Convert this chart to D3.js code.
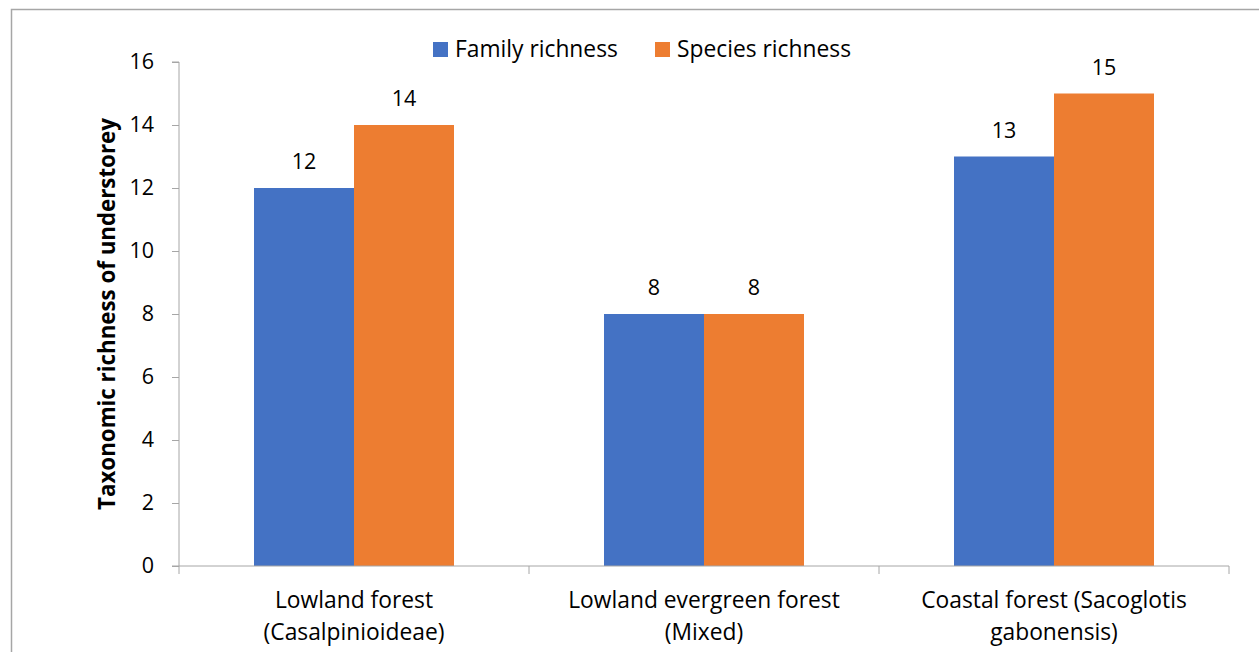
<!DOCTYPE html>
<html><head><meta charset="utf-8">
<script src="https://cdn.jsdelivr.net/npm/d3@7"></script>
<style>
html,body{margin:0;padding:0;background:#fff;}
svg{display:block;font-family:"Open Sans",Carlito,Lato,sans-serif;}
</style></head>
<body>
<svg id="chart" width="1259" height="652"></svg>
<script>
const categories = [["Lowland forest","(Casalpinioideae)"],["Lowland evergreen forest","(Mixed)"],["Coastal forest (Sacoglotis","gabonensis)"]];
const seriesNames = ["Family richness","Species richness"];
const familyRichness = [12, 8, 13];
const speciesRichness = [14, 8, 15];
const yTicks = [0,2,4,6,8,10,12,14,16];
const colors = ["#4472C4","#ED7D31"];
const seriesValues = [familyRichness, speciesRichness];
const FS = 22.8, NS = 21.5, TS = 22.3;

const svg = d3.select("#chart");
// outer border
svg.append("rect").attr("x",11.5).attr("y",9.5).attr("width",1260).attr("height",660)
  .attr("fill","none").attr("stroke","#A6A6A6").attr("stroke-width",1.5);

const pLeft = 179, pRight = 1229, pTop = 62, pBottom = 566;
const catIdx = categories.map((d,i)=>i);
const x = d3.scaleBand().domain(catIdx).range([pLeft,pRight]).paddingInner(0).paddingOuter(0);
const bw = x.bandwidth();
const x1 = d3.scaleBand().domain(seriesNames).range([bw*75/350, bw*275/350]).padding(0);
const y = d3.scaleLinear().domain([0,16]).range([pBottom, pTop]);

// y axis
const yAxis = d3.axisLeft(y).tickValues(yTicks).tickSize(7).tickPadding(18).tickFormat(d3.format("d"));
const gy = svg.append("g").attr("transform",`translate(${pLeft},0)`).call(yAxis);
gy.select(".domain").attr("stroke","#A6A6A6").attr("d",`M-7,${pTop}H0V${pBottom}`);
gy.selectAll(".tick line").attr("stroke","#A6A6A6");
gy.selectAll(".tick text").attr("font-size",NS).attr("fill","#000").attr("font-family","'Open Sans',sans-serif");

// bars
const g = svg.append("g");
seriesNames.forEach((s,si)=>{
  g.selectAll(".bar"+si).data(seriesValues[si]).enter().append("rect")
    .attr("x",(d,i)=>x(i)+x1(s))
    .attr("y",d=>y(d))
    .attr("width",x1.bandwidth())
    .attr("height",d=>y(0)-y(d))
    .attr("fill",colors[si]);
  g.selectAll(".lab"+si).data(seriesValues[si]).enter().append("text")
    .attr("x",(d,i)=>x(i)+x1(s)+x1.bandwidth()/2)
    .attr("y",d=>y(d)-19)
    .attr("text-anchor","middle").attr("font-size",NS).attr("fill","#000")
    .text(d=>d);
});

// x axis
const gx = svg.append("g").attr("transform",`translate(0,${pBottom})`);
gx.append("path").attr("d",`M${pLeft-7},0H${pRight}`).attr("stroke","#A6A6A6").attr("fill","none");
const bounds = catIdx.map(i=>x(i)).concat([pRight]);
gx.selectAll(".tk").data(bounds).enter().append("line")
  .attr("x1",d=>d).attr("x2",d=>d).attr("y1",0).attr("y2",8).attr("stroke","#A6A6A6");
categories.forEach((lines,i)=>{
  const t = gx.append("text").attr("text-anchor","middle").attr("font-size",FS).attr("fill","#000");
  lines.forEach((ln,j)=>{
    t.append("tspan").attr("x",x(i)+bw/2).attr("y",42+j*32).text(ln);
  });
});

// y title
svg.append("text").attr("transform",`translate(115,${(pTop+pBottom)/2}) rotate(-90)`)
  .attr("text-anchor","middle").attr("font-size",TS).attr("font-weight","bold").attr("fill","#000")
  .text("Taxonomic richness of understorey");

// legend
const leg = svg.append("g");
const legX = [433, 655];
seriesNames.forEach((s,i)=>{
  leg.append("rect").attr("x",legX[i]).attr("y",42).attr("width",15).attr("height",15).attr("fill",colors[i]);
  leg.append("text").attr("x",legX[i]+22).attr("y",57).attr("font-size",FS).attr("fill","#000").text(s);
});
</script>
</body></html>
